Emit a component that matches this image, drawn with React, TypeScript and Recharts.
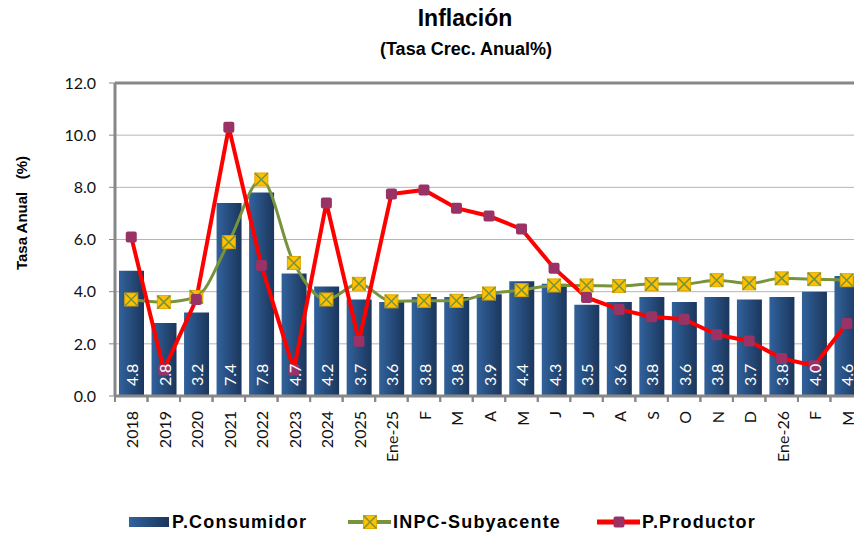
import {
  ComposedChart,
  Bar,
  Line,
  XAxis,
  YAxis,
  CartesianGrid,
  ReferenceLine,
  LabelList,
  Legend,
} from "recharts";

const categories = [
  "2018", "2019", "2020", "2021", "2022", "2023", "2024", "2025",
  "Ene-25", "F", "M", "A", "M", "J", "J", "A", "S", "O", "N", "D",
  "Ene-26", "F", "M",
];

// P.Consumidor (barras)
const consumidor = [
  4.8, 2.8, 3.2, 7.4, 7.8, 4.7, 4.2, 3.7,
  3.6, 3.8, 3.8, 3.9, 4.4, 4.3, 3.5, 3.6, 3.8, 3.6, 3.8, 3.7,
  3.8, 4.0, 4.6,
];

// INPC-Subyacente
const subyacente = [
  3.7, 3.6, 3.8, 5.9, 8.3, 5.1, 3.7, 4.3,
  3.63, 3.65, 3.65, 3.93, 4.06, 4.24, 4.24, 4.22, 4.29, 4.29, 4.44, 4.32,
  4.51, 4.48, 4.44,
];

// P.Productor
const productor = [
  6.1, 1.0, 3.7, 10.3, 5.0, 1.0, 7.4, 2.1,
  7.74, 7.9, 7.2, 6.9, 6.4, 4.9, 3.78, 3.32, 3.04, 2.94, 2.35, 2.11,
  1.44, 1.16, 2.78,
];

const yTicks = [0, 2, 4, 6, 8, 10, 12];

const data = categories.map((cat, i) => ({
  cat,
  consumidor: consumidor[i],
  subyacente: subyacente[i],
  productor: productor[i],
}));

const AXIS_GRAY = "#878787";
const labelFont = "Lato, 'Open Sans', sans-serif";
const boldFont = "'Liberation Sans', Arial, sans-serif";

function XTick(props: any) {
  const { x, y, payload } = props;
  const half = payload?.offset ?? 0;
  const ty = y + 15;
  return (
    <g>
      <line x1={x - half} x2={x - half} y1={y} y2={y + 6} stroke={AXIS_GRAY} strokeWidth={2} />
      <line x1={x + half} x2={x + half} y1={y} y2={y + 6} stroke={AXIS_GRAY} strokeWidth={2} />
      <text
        x={x + 0.5}
        y={ty}
        transform={`rotate(-90 ${x + 0.5} ${ty})`}
        textAnchor="end"
        dominantBaseline="central"
        fontFamily={labelFont}
        fontSize={16}
        fill="#111"
      >
        {payload.value}
      </text>
    </g>
  );
}

function BarValue(props: any) {
  const { x, y, width, height, value } = props;
  const cx = x + width / 2;
  const by = y + height - 10;
  return (
    <text
      x={cx}
      y={by}
      transform={`rotate(-90 ${cx} ${by})`}
      textAnchor="start"
      dominantBaseline="central"
      fontFamily={labelFont}
      fontSize={16}
      fill="#ffffff"
    >
      {Number(value).toFixed(1)}
    </text>
  );
}

function XMark(props: any) {
  const { cx, cy } = props;
  if (cx == null || cy == null) return null;
  const s = 6.5;
  return (
    <g>
      <rect x={cx - s} y={cy - s} width={s * 2} height={s * 2} fill="#FFC000" stroke="#E0A800" strokeWidth={1} />
      <line x1={cx - s} y1={cy - s} x2={cx + s} y2={cy + s} stroke="#77933C" strokeWidth={1.5} />
      <line x1={cx - s} y1={cy + s} x2={cx + s} y2={cy - s} stroke="#77933C" strokeWidth={1.5} />
    </g>
  );
}

function SquareMark(props: any) {
  const { cx, cy } = props;
  if (cx == null || cy == null) return null;
  const s = 5.5;
  return <rect x={cx - s} y={cy - s} width={s * 2} height={s * 2} rx={2} fill="#993366" />;
}

function LegendContent() {
  const text = {
    position: "absolute" as const,
    top: 0,
    fontFamily: boldFont,
    fontWeight: "bold" as const,
    fontSize: 18,
    letterSpacing: 1.2,
    lineHeight: "22px",
    color: "#000",
    whiteSpace: "nowrap" as const,
  };
  return (
    <div style={{ position: "relative", width: 854, height: 22 }}>
      <svg style={{ position: "absolute", left: 0, top: 0 }} width={854} height={22}>
        <defs>
          <linearGradient id="legBar" x1="0" y1="0" x2="1" y2="0">
            <stop offset="0%" stopColor="#31629C" />
            <stop offset="100%" stopColor="#1B365C" />
          </linearGradient>
        </defs>
        <rect x={129} y={6} width={40} height={10} fill="url(#legBar)" />
        <line x1={348} x2={391} y1={11} y2={11} stroke="#77933C" strokeWidth={4} />
        <XMark cx={370} cy={11} />
        <line x1={597} x2={640} y1={11} y2={11} stroke="#FF0000" strokeWidth={5} />
        <SquareMark cx={619} cy={11} />
      </svg>
      <span style={{ ...text, left: 172 }}>P.Consumidor</span>
      <span style={{ ...text, left: 393 }}>INPC-Subyacente</span>
      <span style={{ ...text, left: 642 }}>P.Productor</span>
    </div>
  );
}

export default function App() {
  return (
    <div
      style={{
        position: "absolute",
        left: 0,
        top: 0,
        width: 854,
        height: 533,
        overflow: "hidden",
        background: "#fff",
      }}
    >
      <div
        style={{
          position: "absolute",
          left: 265,
          width: 400,
          top: 4,
          textAlign: "center",
          fontFamily: boldFont,
          fontWeight: "bold",
          fontSize: 23,
          lineHeight: "28px",
        }}
      >
        Inflación
      </div>
      <div
        style={{
          position: "absolute",
          left: 266,
          width: 400,
          top: 37,
          textAlign: "center",
          fontFamily: boldFont,
          fontWeight: "bold",
          fontSize: 18,
          lineHeight: "24px",
        }}
      >
        (Tasa Crec. Anual%)
      </div>
      <div
        style={{
          position: "absolute",
          left: 21,
          top: 213,
          transform: "translate(-50%, -50%) rotate(-90deg)",
          fontFamily: boldFont,
          fontWeight: "bold",
          fontSize: 15,
          whiteSpace: "pre",
        }}
      >
        {"Tasa Anual   (%)"}
      </div>
      <ComposedChart
        width={880}
        height={533}
        data={data}
        margin={{ top: 83, right: 17, bottom: 0, left: 0 }}
      >
        <defs>
          <linearGradient id="barGrad" x1="0" y1="0" x2="1" y2="0">
            <stop offset="0%" stopColor="#31629C" />
            <stop offset="100%" stopColor="#1B365C" />
          </linearGradient>
        </defs>
        <CartesianGrid vertical={false} stroke="#b5b5b5" strokeWidth={1} />
        <XAxis
          dataKey="cat"
          height={137}
          interval={0}
          tickSize={0}
          tickMargin={0}
          tickLine={false}
          axisLine={{ stroke: AXIS_GRAY, strokeWidth: 3 }}
          tick={<XTick />}
        />
        <YAxis
          width={115}
          domain={[0, 12]}
          ticks={yTicks}
          tickFormatter={(v: number) => v.toFixed(1)}
          tickSize={6}
          tickMargin={13}
          tickLine={{ stroke: AXIS_GRAY, strokeWidth: 1 }}
          axisLine={{ stroke: AXIS_GRAY, strokeWidth: 3 }}
          tick={{ fontFamily: labelFont, fontSize: 16, fill: "#111" }}
        />
        <ReferenceLine y={12} stroke={AXIS_GRAY} strokeWidth={3} />
        <Bar dataKey="consumidor" barSize={25} fill="url(#barGrad)" isAnimationActive={false}>
          <LabelList dataKey="consumidor" content={<BarValue />} />
        </Bar>
        <Line
          dataKey="subyacente"
          type="monotone"
          stroke="#77933C"
          strokeWidth={3}
          dot={<XMark />}
          activeDot={false}
          isAnimationActive={false}
        />
        <Line
          dataKey="productor"
          type="linear"
          stroke="#FF0000"
          strokeWidth={4}
          dot={<SquareMark />}
          activeDot={false}
          isAnimationActive={false}
        />
        <Legend
          verticalAlign="middle"
          align="center"
          layout="horizontal"
          wrapperStyle={{ top: 511, left: 0, width: 854 }}
          content={<LegendContent />}
        />
      </ComposedChart>
    </div>
  );
}
